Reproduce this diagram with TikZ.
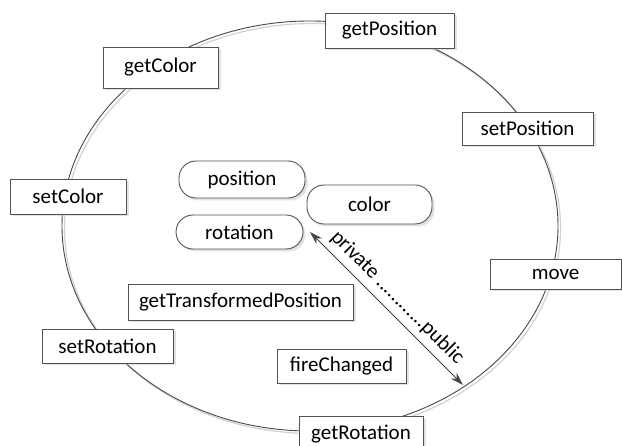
\documentclass[tikz,border=0pt]{standalone}
\usepackage{fontspec}
\setmainfont{Carlito}
\usetikzlibrary{arrows.meta,shadows}

\begin{document}
\begin{tikzpicture}[x=1pt,y=-1pt,
  every node/.style={font=\fontsize{21}{25}\selectfont, text=black},
  box/.style={draw=black!68, line width=0.9pt, fill=white, inner sep=0pt,
    drop shadow={shadow xshift=2.5pt, shadow yshift=-2.5pt, fill=black!22}},
  field/.style={box, rounded corners=17pt},
  ring/.style={draw=black!72, line width=0.9pt},
  ringshade/.style={draw=black!18, line width=1.2pt},
  scopearrow/.style={draw=black!75, line width=0.9pt,
    {Stealth[length=13pt,width=8pt,fill=black!70]}-{Stealth[length=13pt,width=8pt,fill=black!70]}}]

\useasboundingbox (0,0) rectangle (622,446);
\fill[white] (0,0) rectangle (622,446);

% the object boundary
\draw[ringshade] (312.5,228.5) ellipse [x radius=248, y radius=205];
\draw[ring] (310,226) ellipse [x radius=248, y radius=205];

% public methods on the boundary
\node[box, minimum width=129pt, minimum height=35pt] (getPosition) at (389.5,30.5) {getPosition};
\node[box, minimum width=115pt, minimum height=41pt] (getColor) at (160.5,67.5) {getColor};
\node[box, minimum width=131pt, minimum height=33pt] (setPosition) at (527.5,128.5) {setPosition};
\node[box, minimum width=116pt, minimum height=35pt] (setColor) at (68,196.5) {setColor};
\node[box, minimum width=131pt, minimum height=30pt] (move) at (555.5,274) {move};
\node[box, minimum width=131pt, minimum height=34pt] (setRotation) at (107.5,346) {setRotation};
\node[box, minimum width=124pt, minimum height=36pt] (getRotation) at (361,434.5) {getRotation};

% private methods inside
\node[box, minimum width=225pt, minimum height=36pt] (getTransformedPosition) at (240.5,302) {getTransformedPosition};
\node[box, minimum width=129pt, minimum height=34pt] (fireChanged) at (341.5,366) {fireChanged};

% private fields
\node[field, minimum width=126pt, minimum height=37pt] (position) at (242,179.5) {position};
\node[field, minimum width=125pt, minimum height=39pt] (color) at (369.5,204.5) {color};
\node[field, minimum width=127pt, minimum height=34pt] (rotation) at (239.5,232) {rotation};

% visibility scale from the inside out
\coordinate (privEnd) at (310,232);
\coordinate (pubEnd) at (463,385);
\draw[scopearrow] (privEnd) -- node[pos=0.5, sloped, above=5pt, inner sep=1pt] {private ............public} (pubEnd);

\end{tikzpicture}
\end{document}
